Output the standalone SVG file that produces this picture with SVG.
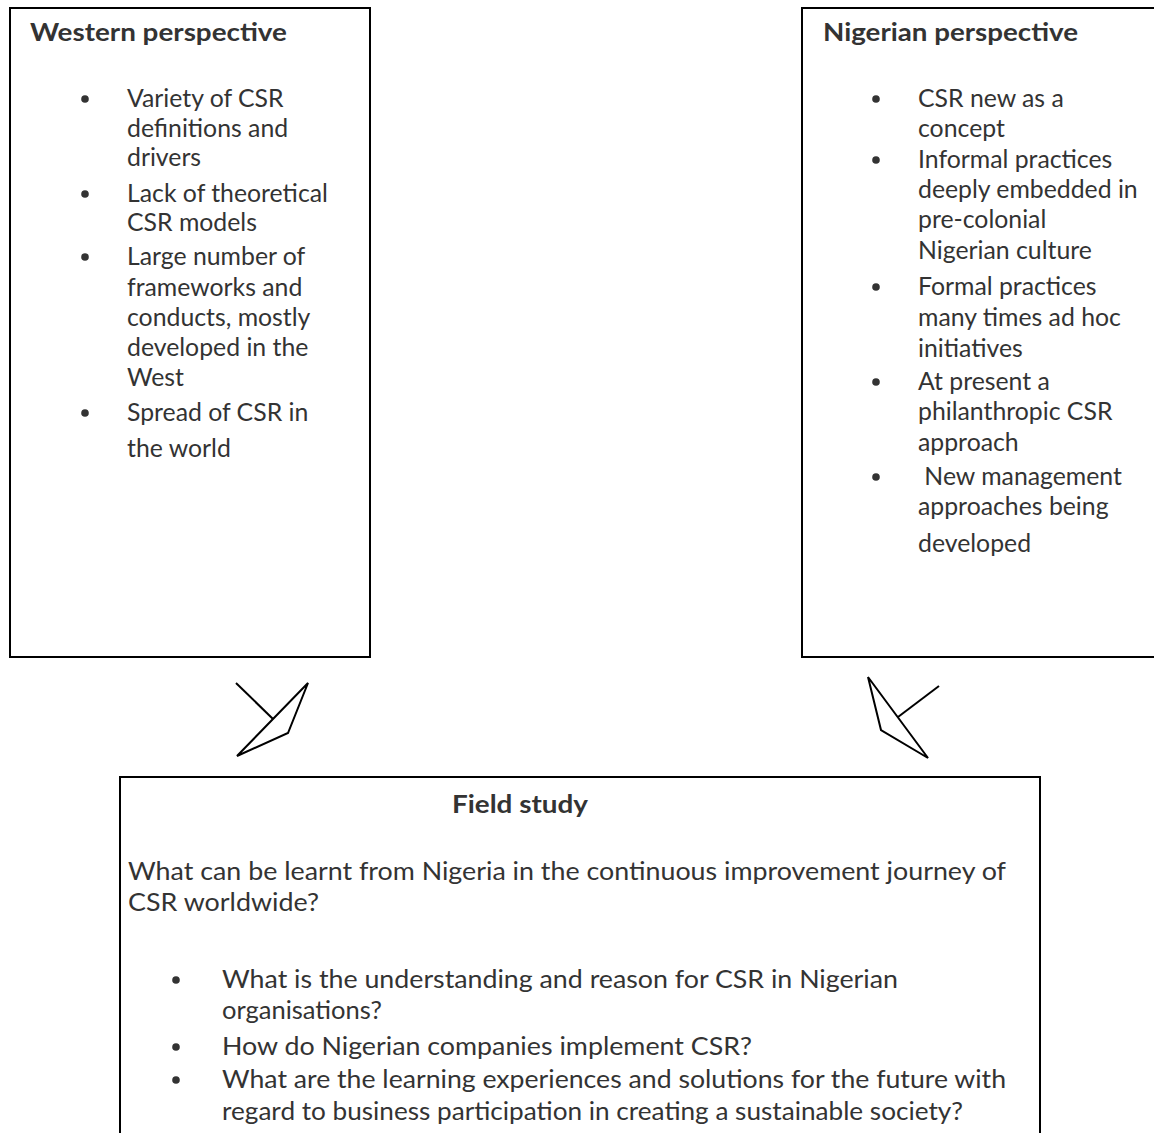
<svg xmlns="http://www.w3.org/2000/svg" width="1154" height="1133" viewBox="0 0 1154 1133">
<style>
.box{fill:#fff;stroke:#000;stroke-width:2}
.t{font-family:Lato,"Open Sans","Liberation Sans",sans-serif;font-size:24.8px;fill:#333}
.bt{font-size:25.5px}
.b{font-weight:bold;font-size:25px}
.dot{fill:#333}
.arr{fill:none;stroke:#000;stroke-width:2;stroke-linejoin:miter}
</style>
<rect width="1154" height="1133" fill="#fff"/>
<g id="western">
<rect class="box" x="10" y="8" width="360" height="649"/>
<text class="t b" x="30" y="41" textLength="257" lengthAdjust="spacingAndGlyphs">Western perspective</text>
<circle class="dot" cx="85" cy="99" r="3.8"/>
<text class="t" x="127" y="107">Variety of CSR</text>
<text class="t" x="127" y="137">definitions and</text>
<text class="t" x="127" y="166">drivers</text>
<circle class="dot" cx="85" cy="194" r="3.8"/>
<text class="t" x="127" y="202">Lack of theoretical</text>
<text class="t" x="127" y="231">CSR models</text>
<circle class="dot" cx="85" cy="257" r="3.8"/>
<text class="t" x="127" y="265">Large number of</text>
<text class="t" x="127" y="296">frameworks and</text>
<text class="t" x="127" y="326">conducts, mostly</text>
<text class="t" x="127" y="356">developed in the</text>
<text class="t" x="127" y="386">West</text>
<circle class="dot" cx="85" cy="413" r="3.8"/>
<text class="t" x="127" y="421">Spread of CSR in</text>
<text class="t" x="127" y="457">the world</text>
</g>
<g id="nigerian">
<rect class="box" x="802" y="8" width="360" height="649"/>
<text class="t b" x="823" y="41" textLength="255" lengthAdjust="spacingAndGlyphs">Nigerian perspective</text>
<circle class="dot" cx="876" cy="99" r="3.8"/>
<text class="t" x="918" y="107">CSR new as a</text>
<text class="t" x="918" y="137">concept</text>
<circle class="dot" cx="876" cy="160" r="3.8"/>
<text class="t" x="918" y="168">Informal practices</text>
<text class="t" x="918" y="198">deeply embedded in</text>
<text class="t" x="918" y="228">pre-colonial</text>
<text class="t" x="918" y="259">Nigerian culture</text>
<circle class="dot" cx="876" cy="287" r="3.8"/>
<text class="t" x="918" y="295">Formal practices</text>
<text class="t" x="918" y="326">many times ad hoc</text>
<text class="t" x="918" y="357">initiatives</text>
<circle class="dot" cx="876" cy="382" r="3.8"/>
<text class="t" x="918" y="390">At present a</text>
<text class="t" x="918" y="420">philanthropic CSR</text>
<text class="t" x="918" y="451">approach</text>
<circle class="dot" cx="876" cy="477" r="3.8"/>
<text class="t" x="918" y="485" xml:space="preserve"> New management</text>
<text class="t" x="918" y="515">approaches being</text>
<text class="t" x="918" y="552">developed</text>
</g>
<g id="fieldstudy">
<rect class="box" x="120" y="777" width="920" height="400"/>
<text class="t b" x="452" y="813" textLength="136" lengthAdjust="spacingAndGlyphs">Field study</text>
<text class="t bt" x="128" y="880" textLength="878" lengthAdjust="spacingAndGlyphs">What can be learnt from Nigeria in the continuous improvement journey of</text>
<text class="t bt" x="128" y="911" textLength="191" lengthAdjust="spacingAndGlyphs">CSR worldwide?</text>
<circle class="dot" cx="176" cy="980" r="3.8"/>
<text class="t bt" x="222" y="988" textLength="676" lengthAdjust="spacingAndGlyphs">What is the understanding and reason for CSR in Nigerian</text>
<text class="t bt" x="222" y="1019" textLength="160" lengthAdjust="spacingAndGlyphs">organisations?</text>
<circle class="dot" cx="176" cy="1047" r="3.8"/>
<text class="t bt" x="222" y="1055" textLength="530" lengthAdjust="spacingAndGlyphs">How do Nigerian companies implement CSR?</text>
<circle class="dot" cx="176" cy="1080" r="3.8"/>
<text class="t bt" x="222" y="1088" textLength="784" lengthAdjust="spacingAndGlyphs">What are the learning experiences and solutions for the future with</text>
<text class="t bt" x="222" y="1120" textLength="741" lengthAdjust="spacingAndGlyphs">regard to business participation in creating a sustainable society?</text>
</g>
<g id="connectors">
<polygon class="arr" points="308,683 237,756 288,733"/>
<line class="arr" x1="236" y1="683" x2="273" y2="719"/>
<polygon class="arr" points="868,677 928,758 881,730"/>
<line class="arr" x1="939" y1="686" x2="898" y2="717"/>
</g>
</svg>
